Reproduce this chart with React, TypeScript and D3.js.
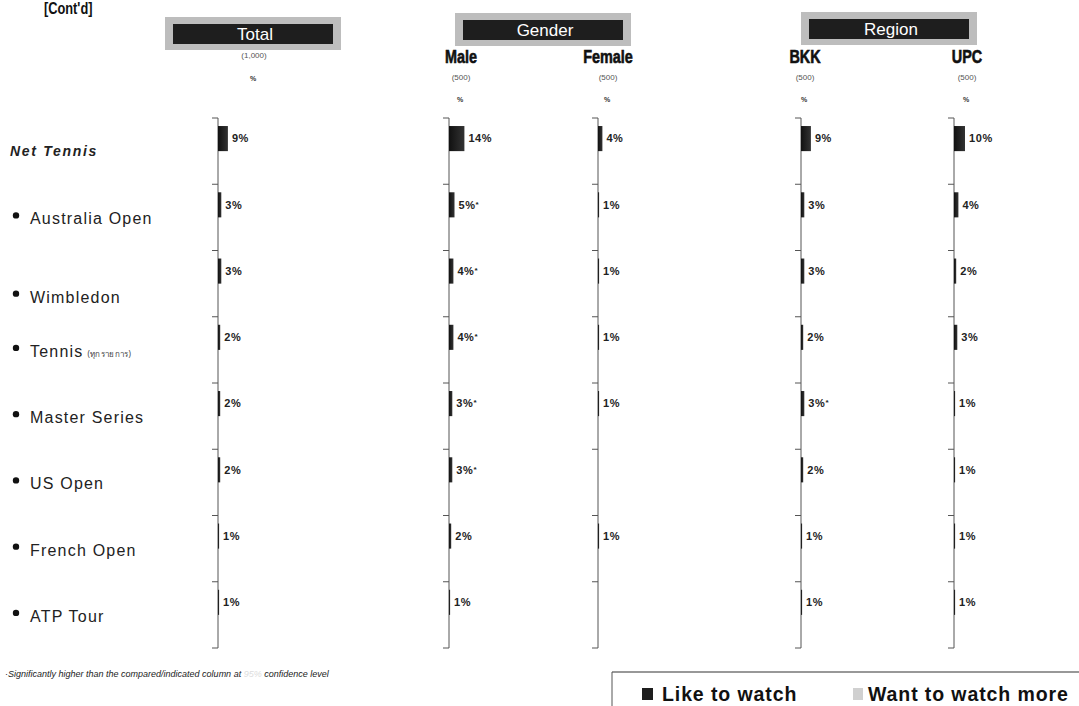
import * as d3 from "d3";
import React from "react";

// categories and series
const categories = [
  "Net Tennis",
  "Australia Open",
  "Wimbledon",
  "Tennis",
  "Master Series",
  "US Open",
  "French Open",
  "ATP Tour",
];
const columns = ["Total", "Male", "Female", "BKK", "UPC"];
const sampleSizes = ["(1,000)", "(500)", "(500)", "(500)", "(500)"];
const groups = ["Total", "Gender", "Region"];

// "Like to watch" values (%) per column
const likeTotal = [9, 3, 3, 2, 2, 2, 1, 1];
const likeMale = [14, 5, 4, 4, 3, 3, 2, 1];
const likeFemale = [4, 1, 1, 1, 1, 0, 1, 0];
const likeBKK = [9, 3, 3, 2, 3, 2, 1, 1];
const likeUPC = [10, 4, 2, 3, 1, 1, 1, 1];
// significance flags
const sigMale = [false, true, true, true, true, true, false, false];
const sigBKK = [false, false, false, false, true, false, false, false];
const noSig = categories.map(() => false);

const seriesNames = ["Like to watch", "Want to watch more"];

const columnValues = [likeTotal, likeMale, likeFemale, likeBKK, likeUPC];
const columnSig = [noSig, sigMale, noSig, sigBKK, noSig];

// layout
const W = 1079;
const H = 706;
const axisX = [218, 449, 598, 801, 954];
const headerX = [254, 461, 608, 805, 967];
const groupBox = [
  { cx: 253, top: 17 },
  { cx: 543, top: 13 },
  { cx: 889, top: 12 },
];
const sans = "'Liberation Sans', Arial, sans-serif";

export default function App() {
  const y = d3.scaleBand<string>().domain(categories).range([118, 648]);
  const sub = d3
    .scaleBand<string>()
    .domain(seriesNames)
    .range([0, y.bandwidth()])
    .paddingOuter(0.32);
  const x = d3.scaleLinear().domain([0, 100]).range([0, 110]);
  const ticks = [...categories.map((c) => y(c)!), 648];

  return (
    <svg
      width={W}
      height={H}
      style={{ position: "absolute", left: 0, top: 0, background: "#fff" }}
    >
      <defs>
        <linearGradient id="barg" x1="0" x2="1" y1="0" y2="0">
          <stop offset="0" stopColor="#111" />
          <stop offset="1" stopColor="#333" />
        </linearGradient>
      </defs>

      {/* title (cut off at the top in the original) */}
      <text
        transform="translate(44,14) scale(0.8,1)"
        fontFamily={sans}
        fontWeight="bold"
        fontSize={16}
        fill="#111"
      >
        [Cont'd]
      </text>

      {/* group header boxes */}
      {groups.map((g, i) => (
        <g key={g}>
          <rect
            x={groupBox[i].cx - 88}
            y={groupBox[i].top}
            width={176}
            height={33}
            fill="#bdbdbd"
          />
          <rect
            x={groupBox[i].cx - 80}
            y={groupBox[i].top + 7}
            width={160}
            height={20}
            fill="#1e1e1e"
          />
          <text
            x={groupBox[i].cx + 2}
            y={groupBox[i].top + 23}
            textAnchor="middle"
            fontFamily={sans}
            fontSize={17}
            fill="#fff"
          >
            {g}
          </text>
        </g>
      ))}

      {/* column headers */}
      {columns.map((c, i) => (
        <g key={c}>
          {i > 0 && (
            <text
              transform={`translate(${headerX[i]},63) scale(0.8,1)`}
              textAnchor="middle"
              fontFamily={sans}
              fontWeight="bold"
              fontSize={18}
              stroke="#111"
              strokeWidth={0.6}
              fill="#111"
            >
              {c}
            </text>
          )}
          <text
            x={headerX[i]}
            y={i === 0 ? 58 : 80}
            textAnchor="middle"
            fontFamily={sans}
            fontSize={8}
            fill="#555"
          >
            {sampleSizes[i]}
          </text>
          <text
            x={headerX[i] - 1}
            y={i === 0 ? 81 : 102}
            textAnchor="middle"
            fontFamily={sans}
            fontWeight="bold"
            fontSize={7}
            fill="#333"
          >
            %
          </text>
        </g>
      ))}

      {/* row labels */}
      {categories.map((c, i) => {
        const cy = y(c)! + y.bandwidth() / 2 + (c === "Wimbledon" ? 14 : 2);
        if (i === 0)
          return (
            <text
              key={c}
              x={10}
              y={156}
              fontFamily={sans}
              fontWeight="bold"
              fontStyle="italic"
              fontSize={14}
              letterSpacing={1.7}
              fill="#222"
            >
              {c}
            </text>
          );
        return (
          <g key={c}>
            <circle cx={16} cy={cy - 4} r={3.2} fill="#111" />
            <text
              x={30}
              y={cy + 5}
              fontFamily={sans}
              fontSize={16}
              letterSpacing={1.2}
              fill="#222"
            >
              {c}
              {c === "Tennis" && (
                <tspan
                  fontSize={8}
                  dx={4}
                  letterSpacing={0.3}
                  fill="#444"
                  fontFamily="'Noto Sans', sans-serif"
                >
                  (ทุกรายการ)
                </tspan>
              )}
            </text>
          </g>
        );
      })}

      {/* columns with axes and bars */}
      {columns.map((c, ci) => {
        const x0 = axisX[ci];
        const vals = columnValues[ci];
        return (
          <g key={c} transform={`translate(${x0},0)`}>
            <line x1={0} x2={0} y1={118} y2={648} stroke="#555" strokeWidth={1} />
            {ticks.map((t, ti) => (
              <line key={ti} x1={-6} x2={0} y1={t} y2={t} stroke="#555" strokeWidth={1} />
            ))}
            {categories.map((cat, ri) => {
              const v = vals[ri];
              const by = y(cat)! + sub(seriesNames[0])!;
              const bh = sub.bandwidth();
              return (
                <g key={cat}>
                  {v > 0 && (
                    <rect x={0} y={by} width={x(v)} height={bh} fill="url(#barg)" />
                  )}
                  {v > 0 && (
                    <text
                      x={x(v) + 4}
                      y={by + bh / 2}
                      dy="0.35em"
                      fontFamily={sans}
                      fontWeight="bold"
                      fontSize={11}
                      letterSpacing={0.6}
                      fill="#222"
                    >
                      {v}%
                      {columnSig[ci][ri] && (
                        <tspan fontSize={8} dy={-2}>
                          *
                        </tspan>
                      )}
                    </text>
                  )}
                </g>
              );
            })}
          </g>
        );
      })}

      {/* footnote */}
      <text
        x={5}
        y={677}
        fontFamily={sans}
        fontStyle="italic"
        fontSize={9}
        fill="#222"
      >
        ·Significantly higher than the compared/indicated column at{" "}
        <tspan fill="#ddd">95%</tspan> confidence level
      </text>

      {/* legend */}
      <line x1={612} x2={W} y1={672} y2={672} stroke="#333" strokeWidth={1.2} />
      <line x1={612} x2={612} y1={672} y2={H} stroke="#555" strokeWidth={1} />
      <rect x={642} y={688} width={11} height={12} fill="#1e1e1e" />
      <text
        x={662}
        y={701}
        fontFamily={sans}
        fontWeight="bold"
        fontSize={19.5}
        letterSpacing={0.9}
        fill="#111"
      >
        {seriesNames[0]}
      </text>
      <rect x={853} y={688} width={10} height={12} fill="#d0d0d0" />
      <text
        x={868}
        y={701}
        fontFamily={sans}
        fontWeight="bold"
        fontSize={19.5}
        letterSpacing={0.9}
        fill="#111"
      >
        {seriesNames[1]}
      </text>
    </svg>
  );
}
